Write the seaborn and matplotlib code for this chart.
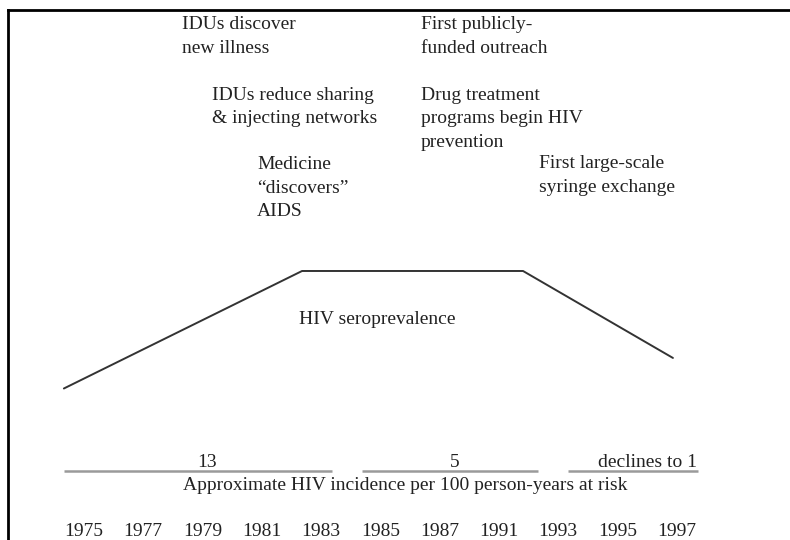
import matplotlib
matplotlib.use("Agg")
import matplotlib.pyplot as plt
import seaborn as sns
import pandas as pd

# year labels along the bottom (1989 is not shown in the original)
years = ["1975", "1977", "1979", "1981", "1983", "1985", "1987", "1991", "1993", "1995", "1997"]

# HIV seroprevalence shape (relative level, peak = 1), positions on the year axis
sero_pos = [-0.34, 3.68, 7.41, 9.94]
sero_level = [0.50, 1.00, 1.00, 0.63]

# approximate incidence per 100 person-years, one segment per period
inc_start = [-0.34, 4.69, 8.17]
inc_end = [4.19, 7.66, 10.36]
inc_labels = ["13", "5", "declines to 1"]
inc_level = 0.15

# timeline notes
notes = [
    "IDUs discover\nnew illness",
    "IDUs reduce sharing\n& injecting networks",
    "Medicine\n\u201cdiscovers\u201d\nAIDS",
    "First publicly-\nfunded outreach",
    "Drug treatment\nprograms begin HIV\nprevention",
    "First large-scale\nsyringe exchange",
]
note_x = [1.654, 2.160, 2.920, 5.688, 5.688, 7.679]
note_y = [2.085, 1.783, 1.489, 2.085, 1.783, 1.493]

sns.set_style("white")
plt.rcParams["font.family"] = ["Liberation Serif", "DejaVu Serif"]
txt = "#222222"

fig = plt.figure(figsize=(7.9, 5.4), dpi=100)
ax = fig.add_axes([8 / 790, 0, 1 - 8 / 790, 1 - 10 / 540])

df = pd.DataFrame({"pos": sero_pos, "level": sero_level})
sns.lineplot(data=df, x="pos", y="level", ax=ax, color="#333333", lw=1.4,
             estimator=None, sort=False)
ax.text(3.629, 0.830, "HIV seroprevalence", fontsize=14, color=txt,
        ha="left", va="top")

# incidence segments
ax.hlines([inc_level] * len(inc_start), inc_start, inc_end, color="#9a9a9a", lw=1.8)
ax.text(2.084, 0.168, inc_labels[0], fontsize=14, color=txt, ha="center", va="baseline")
ax.text(6.262, 0.168, inc_labels[1], fontsize=14, color=txt, ha="center", va="baseline")
ax.text(10.346, 0.168, inc_labels[2], fontsize=14, color=txt, ha="right", va="baseline")
ax.text(5.418, 0.070, "Approximate HIV incidence per 100 person-years at risk",
        fontsize=14, color=txt, ha="center", va="baseline")

for s, x, y in zip(notes, note_x, note_y):
    ax.text(x, y, s, fontsize=14, color=txt, ha="left", va="top", linespacing=1.5)

ax.set_xlim(-1.283, 11.916)
ax.set_ylim(-0.1447, 2.1106)
ax.set_yticks([])
ax.set_xlabel("")
ax.set_ylabel("")

sns.despine(ax=ax, top=False, left=False, right=True, bottom=True)
for side in ["top", "left"]:
    ax.spines[side].set_color("black")
    ax.spines[side].set_linewidth(2.0)

ax.xaxis.set_ticks_position("bottom")
ax.xaxis.set_label_position("bottom")
ax.set_xticks(range(len(years)))
ax.set_xticklabels(years, fontsize=14, color=txt)
ax.tick_params(axis="x", length=0, pad=-12.6)

fig.savefig("out.png", dpi=100)
